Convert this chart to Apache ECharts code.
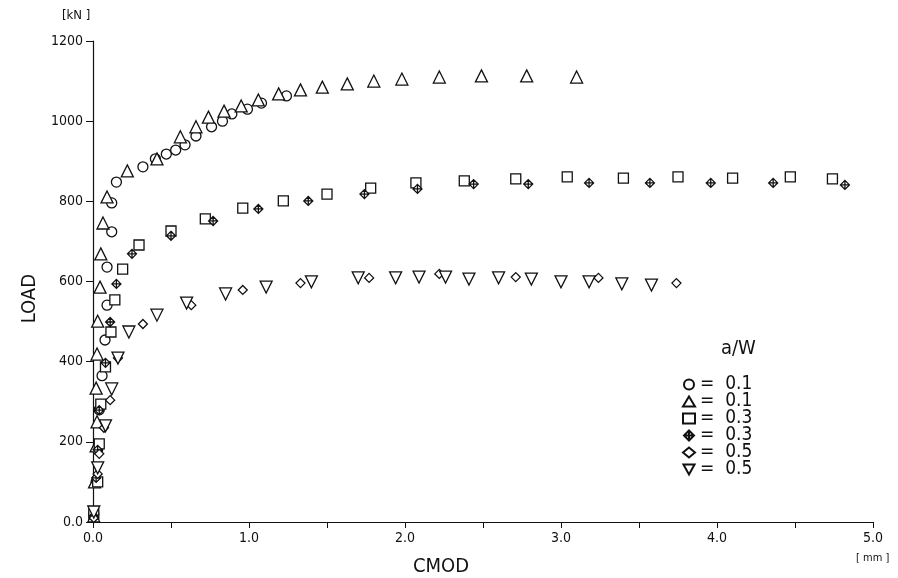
<!DOCTYPE html>
<html>
<head>
<meta charset="utf-8">
<script src="https://cdn.jsdelivr.net/npm/echarts@6/dist/echarts.min.js"></script>
<style>
  html, body { margin: 0; padding: 0; background: #fff; }
  #chart { width: 898px; height: 578px; }
</style>
</head>
<body>
<div id="chart"></div>
<script>
// CMOD [mm] / LOAD [kN] readings per specimen
const circle01X = [0.005, 0.02, 0.03, 0.04, 0.058, 0.077, 0.09, 0.09, 0.12, 0.12, 0.15, 0.32, 0.40, 0.47, 0.53, 0.59, 0.66, 0.76, 0.83, 0.89, 0.99, 1.08, 1.24]
const circle01Y = [20, 100, 180, 280, 365, 454, 541, 636, 724, 796, 848, 886, 906, 918, 928, 941, 963, 986, 1000, 1018, 1030, 1045, 1063]

const tri01X = [0.005, 0.01, 0.02, 0.026, 0.02, 0.026, 0.03, 0.045, 0.05, 0.064, 0.09, 0.22, 0.41, 0.56, 0.66, 0.74, 0.84, 0.95, 1.06, 1.19, 1.33, 1.47, 1.63, 1.80, 1.98, 2.22, 2.49, 2.78, 3.10]
const tri01Y = [15, 100, 190, 250, 334, 419, 501, 586, 669, 746, 811, 876, 906, 961, 986, 1010, 1025, 1038, 1053, 1068, 1078, 1085, 1093, 1100, 1105, 1110, 1113, 1113, 1110]

const sq03X = [0.005, 0.03, 0.04, 0.05, 0.08, 0.115, 0.14, 0.19, 0.295, 0.50, 0.72, 0.96, 1.22, 1.50, 1.78, 2.07, 2.38, 2.71, 3.04, 3.40, 3.75, 4.10, 4.47, 4.74]
const sq03Y = [20, 100, 195, 294, 387, 474, 554, 631, 691, 726, 756, 783, 801, 818, 833, 846, 851, 856, 861, 858, 861, 858, 861, 856]

const cross03X = [0.005, 0.02, 0.03, 0.04, 0.08, 0.11, 0.15, 0.25, 0.50, 0.77, 1.06, 1.38, 1.74, 2.08, 2.44, 2.79, 3.18, 3.57, 3.96, 4.36, 4.82]
const cross03Y = [15, 110, 180, 279, 397, 499, 594, 669, 714, 751, 781, 801, 818, 831, 843, 843, 846, 846, 846, 846, 841]

const dia05X = [0.005, 0.03, 0.04, 0.07, 0.11, 0.16, 0.32, 0.63, 0.96, 1.33, 1.77, 2.22, 2.71, 3.24, 3.74]
const dia05Y = [10, 120, 170, 235, 304, 409, 494, 541, 579, 596, 609, 619, 611, 609, 596]

const down05X = [0.005, 0.03, 0.08, 0.12, 0.16, 0.23, 0.41, 0.60, 0.85, 1.11, 1.40, 1.70, 1.94, 2.09, 2.26, 2.41, 2.60, 2.81, 3.00, 3.18, 3.39, 3.58]
const down05Y = [25, 135, 240, 332, 409, 474, 516, 546, 569, 586, 599, 609, 609, 611, 611, 606, 609, 606, 599, 599, 594, 591]

const legendNames = ['○ 0.1', '△ 0.1', '□ 0.3', '⊕ 0.3', '◇ 0.5', '▽ 0.5']
const legendValues = ['0.1', '0.1', '0.3', '0.3', '0.5', '0.5']

const chart = echarts.init(document.getElementById('chart'))

const zip = (xs, ys) => xs.map((x, i) => [x, ys[i]])

const crossDiamond = 'path://M5,0 L10,5 L5,10 L0,5 Z M5,0 L5,10 M0,5 L10,5'
const downTri = 'path://M0,0 L10,0 L5,9 Z'

const mk = (name, xs, ys, symbol, size) => ({
  name: name,
  type: 'scatter',
  data: zip(xs, ys),
  symbol: symbol,
  symbolSize: size,
  itemStyle: { color: '#fff', borderColor: '#111', borderWidth: 1.3, opacity: 1 },
  emphasis: { disabled: true },
  animation: false
})

const font = '"DejaVu Sans Condensed", "Liberation Sans Narrow", "DejaVu Sans", sans-serif'

const option = {
  backgroundColor: '#fff',
  animation: false,
  textStyle: { fontFamily: font },
  grid: { left: 93, right: 25, top: 41, bottom: 56 },
  xAxis: {
    type: 'value',
    min: 0,
    max: 5,
    interval: 0.5,
    axisLine: { lineStyle: { color: '#111', width: 1.2 } },
    axisTick: { show: true, length: 6, lineStyle: { color: '#111' } },
    axisLabel: {
      color: '#111', fontSize: 14, margin: 9, fontFamily: font,
      formatter: v => (Math.abs(v - Math.round(v)) < 1e-6 ? v.toFixed(1) : '')
    },
    splitLine: { show: false }
  },
  yAxis: {
    type: 'value',
    min: 0,
    max: 1200,
    interval: 200,
    axisLine: { show: true, lineStyle: { color: '#111', width: 1.2 } },
    axisTick: { show: true, length: 7, lineStyle: { color: '#111' } },
    axisLabel: {
      color: '#111', fontSize: 14, margin: 10, fontFamily: font,
      formatter: v => (v === 0 ? '0.0' : String(v))
    },
    splitLine: { show: false }
  },
  legend: {
    orient: 'vertical',
    left: 677,
    top: 370,
    itemWidth: 12,
    itemHeight: 10,
    itemGap: -2,
    selectedMode: false,
    data: legendNames,
    formatter: name => '=  ' + legendValues[legendNames.indexOf(name)],
    textStyle: { color: '#111', fontSize: 19, fontFamily: font }
  },
  graphic: [
    { type: 'text', left: 62, top: 9, style: { text: '[kN ]', fontSize: 13, fill: '#111', fontFamily: font } },
    { type: 'text', left: 856, top: 553, style: { text: '[ mm ]', fontSize: 11, fill: '#111', fontFamily: font } },
    { type: 'text', left: 413, top: 557, style: { text: 'CMOD', fontSize: 20, fill: '#111', fontFamily: font } },
    { type: 'text', left: 20, top: 274, rotation: Math.PI / 2, originX: 0, originY: 0,
      style: { text: 'LOAD', fontSize: 20, fill: '#111', fontFamily: font, x: 0, y: 0 } },
    { type: 'text', left: 721, top: 339, style: { text: 'a/W', fontSize: 20, fill: '#111', fontFamily: font } }
  ],
  series: [
    mk(legendNames[0], circle01X, circle01Y, 'circle', 10),
    mk(legendNames[1], tri01X, tri01Y, 'triangle', 12),
    mk(legendNames[2], sq03X, sq03Y, 'rect', 10),
    mk(legendNames[3], cross03X, cross03Y, crossDiamond, 9),
    mk(legendNames[4], dia05X, dia05Y, 'diamond', 9),
    mk(legendNames[5], down05X, down05Y, downTri, 12)
  ]
}

chart.setOption(option)
</script>
</body>
</html>
